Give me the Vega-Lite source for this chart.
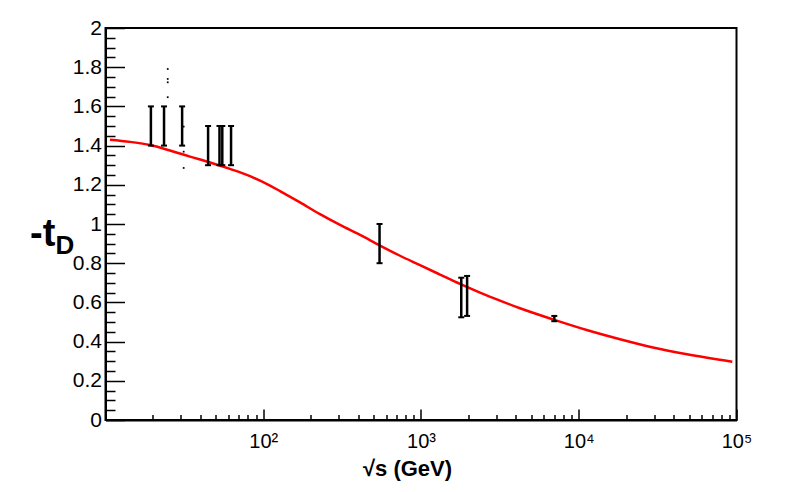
{
  "$schema": "https://vega.github.io/schema/vega-lite/v6.json",
  "width": 631,
  "height": 392,
  "autosize": {"type": "none"},
  "padding": {"left": 105.5, "top": 28, "right": 51.5, "bottom": 72},
  "background": "white",
  "config": {
    "view": {"stroke": "black", "strokeWidth": 2},
    "font": "Liberation Sans",
    "axis": {
      "grid": false,
      "domainColor": "black",
      "domainWidth": 2,
      "tickColor": "black",
      "tickWidth": 1.5,
      "labelFont": "Liberation Sans",
      "labelColor": "black",
      "titleColor": "black"
    }
  },
  "datasets": {
    "curve": [
      {"s": 10.68, "t": 1.430},
      {"s": 14.3, "t": 1.419},
      {"s": 19.15, "t": 1.403},
      {"s": 25.64, "t": 1.375},
      {"s": 34.33, "t": 1.344},
      {"s": 45.97, "t": 1.314},
      {"s": 61.55, "t": 1.281},
      {"s": 82.42, "t": 1.244},
      {"s": 110.4, "t": 1.196},
      {"s": 127.7, "t": 1.168},
      {"s": 171.0, "t": 1.110},
      {"s": 229.0, "t": 1.050},
      {"s": 306.6, "t": 0.995},
      {"s": 410.6, "t": 0.944},
      {"s": 549.7, "t": 0.890},
      {"s": 736.2, "t": 0.838},
      {"s": 985.6, "t": 0.790},
      {"s": 1319.6, "t": 0.742},
      {"s": 1767, "t": 0.694},
      {"s": 2366, "t": 0.650},
      {"s": 3168, "t": 0.609},
      {"s": 4242, "t": 0.570},
      {"s": 6937, "t": 0.512},
      {"s": 11230, "t": 0.459},
      {"s": 18260, "t": 0.412},
      {"s": 29560, "t": 0.370},
      {"s": 48560, "t": 0.335},
      {"s": 94060, "t": 0.297}
    ],
    "bars": [
      {"s": 19.4, "lo": 1.40, "hi": 1.60},
      {"s": 23.5, "lo": 1.40, "hi": 1.60},
      {"s": 30.6, "lo": 1.40, "hi": 1.60},
      {"s": 44.7, "lo": 1.30, "hi": 1.50},
      {"s": 52.8, "lo": 1.30, "hi": 1.50},
      {"s": 55, "lo": 1.30, "hi": 1.50},
      {"s": 62.5, "lo": 1.30, "hi": 1.50},
      {"s": 546, "lo": 0.80, "hi": 1.00},
      {"s": 1800, "lo": 0.524, "hi": 0.726},
      {"s": 1960, "lo": 0.531, "hi": 0.735},
      {"s": 7000, "lo": 0.504, "hi": 0.531}
    ],
    "dots": [
      {"s": 24.8, "t": 1.791},
      {"s": 24.8, "t": 1.740},
      {"s": 24.8, "t": 1.723},
      {"s": 24.8, "t": 1.647},
      {"s": 31.3, "t": 1.497},
      {"s": 31.3, "t": 1.369},
      {"s": 31.3, "t": 1.286}
    ]
  },
  "title": {
    "text": "D",
    "orient": "top",
    "anchor": "start",
    "frame": "group",
    "font": "Liberation Sans",
    "fontSize": 26,
    "fontWeight": "bold",
    "color": "black",
    "align": "left",
    "baseline": "alphabetic",
    "offset": 0,
    "dx": -50,
    "dy": 263
  },
  "layer": [
    {
      "data": {"name": "curve"},
      "mark": {"type": "line", "color": "#ff0000", "strokeWidth": 2.5, "interpolate": "monotone"},
      "encoding": {
        "x": {
          "field": "s",
          "type": "quantitative",
          "scale": {"type": "log", "domain": [10, 100000], "nice": false},
          "axis": {
            "values": [10, 20, 30, 40, 50, 60, 70, 80, 90, 100, 200, 300, 400, 500, 600, 700, 800, 900, 1000, 2000, 3000, 4000, 5000, 6000, 7000, 8000, 9000, 10000, 20000, 30000, 40000, 50000, 60000, 70000, 80000, 90000, 100000],
            "tickCount": 1000,
            "labelOverlap": false,
            "labelFlush": false,
            "labelBound": false,
            "labelFontSize": 20,
            "title": "√s (GeV)",
            "titleFont": "Liberation Sans",
            "titleFontSize": 22,
            "titleFontWeight": "bold",
            "titleAlign": "center",
            "titleBaseline": "alphabetic",
            "titleX": 301.5,
            "titleY": 55,
            "labelExpr": "datum.value == 100 ? '10²' : datum.value == 1000 ? '10³' : datum.value == 10000 ? '10⁴' : datum.value == 100000 ? '10⁵' : ''",
            "tickSize": {"condition": {"test": "datum.value == 10 || datum.value == 100 || datum.value == 1000 || datum.value == 10000 || datum.value == 100000", "value": -11}, "value": -5.5},
            "labelPadding": 22
          }
        },
        "y": {
          "field": "t",
          "type": "quantitative",
          "scale": {"domain": [0, 2], "nice": false, "zero": false},
          "axis": {
            "values": [0, 0.05, 0.1, 0.15, 0.2, 0.25, 0.3, 0.35, 0.4, 0.45, 0.5, 0.55, 0.6, 0.65, 0.7, 0.75, 0.8, 0.85, 0.9, 0.95, 1, 1.05, 1.1, 1.15, 1.2, 1.25, 1.3, 1.35, 1.4, 1.45, 1.5, 1.55, 1.6, 1.65, 1.7, 1.75, 1.8, 1.85, 1.9, 1.95, 2],
            "tickCount": 1000,
            "labelOverlap": false,
            "labelFlush": false,
            "labelBound": false,
            "labelFontSize": 21,
            "title": "-t",
            "titleFont": "Liberation Sans",
            "titleFontSize": 38,
            "titleFontWeight": "bold",
            "titleAngle": 0,
            "titleAlign": "left",
            "titleBaseline": "alphabetic",
            "titleX": -76,
            "titleY": 217,
            "labelExpr": "abs(datum.value*5 - round(datum.value*5)) < 0.001 ? format(datum.value, '~g') : ''",
            "tickSize": {"condition": {"test": "abs(datum.value*5 - round(datum.value*5)) < 0.001", "value": -19}, "value": -9.5},
            "labelPadding": 23
          }
        }
      }
    },
    {
      "data": {"name": "bars"},
      "mark": {"type": "rule", "color": "black", "strokeWidth": 2.5},
      "encoding": {
        "x": {"field": "s", "type": "quantitative"},
        "y": {"field": "lo", "type": "quantitative"},
        "y2": {"field": "hi"}
      }
    },
    {
      "data": {"name": "bars"},
      "mark": {"type": "tick", "orient": "horizontal", "color": "black", "size": 6, "thickness": 2, "opacity": 1},
      "encoding": {
        "x": {"field": "s", "type": "quantitative"},
        "y": {"field": "lo", "type": "quantitative"}
      }
    },
    {
      "data": {"name": "bars"},
      "mark": {"type": "tick", "orient": "horizontal", "color": "black", "size": 6, "thickness": 2, "opacity": 1},
      "encoding": {
        "x": {"field": "s", "type": "quantitative"},
        "y": {"field": "hi", "type": "quantitative"}
      }
    },
    {
      "data": {"name": "dots"},
      "mark": {"type": "square", "color": "black", "size": 3, "opacity": 1, "filled": true},
      "encoding": {
        "x": {"field": "s", "type": "quantitative"},
        "y": {"field": "t", "type": "quantitative"}
      }
    }
  ]
}
